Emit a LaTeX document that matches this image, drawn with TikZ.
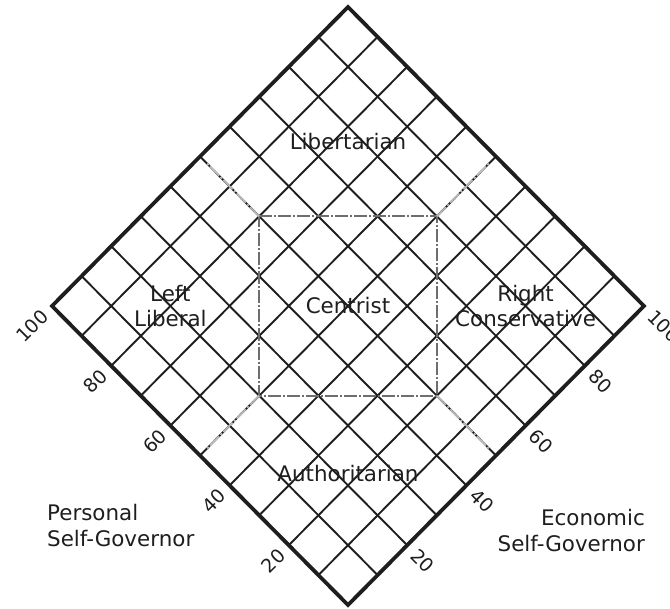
\documentclass[tikz,border=0pt]{standalone}
\usepackage{fontspec}
\setmainfont{DejaVu Sans}
\usepackage{xcolor}
\usepackage{tikz}
\definecolor{nolanInk}{HTML}{1E1E1E}
\definecolor{nolanGuia}{HTML}{6E6E6E}
\definecolor{nolanTenue}{HTML}{BDBDBD}
\tikzset{
  rejilla/.style={draw=nolanInk, line width=1.9bp},
  marco/.style={draw=nolanInk, line width=3.8bp, line join=miter},
  limite/.style={draw=#1, line width=1.7bp, dash pattern=on 13bp off 2bp on 2bp off 2bp},
  zona/.style={text=nolanInk, align=center, inner sep=0pt, font=\fontsize{21.5}{25}\selectfont},
  escala/.style={text=nolanInk, inner sep=0pt, font=\fontsize{19}{22}\selectfont},
  eje/.style={text=nolanInk, inner sep=0pt, font=\fontsize{21.5}{26}\selectfont},
}

\begin{document}
\begin{tikzpicture}[x={(-29.6bp,29.9bp)}, y={(29.6bp,29.9bp)}]
\useasboundingbox (-348bp,-4bp) rectangle (322bp,605bp);
% rejilla 10 x 10
\foreach \i in {1,...,9} {
  \draw[rejilla] (\i,0) -- (\i,10);
  \draw[rejilla] (0,\i) -- (10,\i);
}
\coordinate (abajo) at (0,0);
\coordinate (izq) at (10,0);
\coordinate (arriba) at (10,10);
\coordinate (der) at (0,10);
\draw[marco] (abajo) -- (izq) -- (arriba) -- (der) -- cycle;

% zona central y sus prolongaciones
\coordinate (c1) at (8,5);
\coordinate (c2) at (5,8);
\coordinate (c3) at (2,5);
\coordinate (c4) at (5,2);
\draw[limite=nolanGuia] (c1) -- (c2) -- (c3) -- (c4) -- cycle;
\coordinate (f1) at (9.8,5);
\coordinate (f2) at (5,9.8);
\coordinate (f3) at (0.2,5);
\coordinate (f4) at (5,0.2);
\draw[limite=nolanTenue] (c1) -- (f1);
\draw[limite=nolanTenue] (c2) -- (f2);
\draw[limite=nolanTenue] (c3) -- (f3);
\draw[limite=nolanTenue] (c4) -- (f4);

% nombres de zona
\node[zona] (libertario) at (7.75,7.75) {Libertarian};
\node[zona] (izquierda) at (8,2) {Left\\Liberal};
\node[zona] (centro) at (5,5) {Centrist};
\node[zona] (derecha) at (2,8) {Right\\Conservative};
\node[zona] (autoritario) at (2.2,2.2) {Authoritarian};

% escalas
\foreach \v/\t in {2/20,4/40,6/60,8/80,10/100} {
  \node[escala, xshift=-7bp, yshift=-7bp, rotate=45, anchor=east] (per\t) at (\v,0) {\t};
  \node[escala, xshift=7bp, yshift=-7bp, rotate=-45, anchor=west] (eco\t) at (0,\v) {\t};
}

% ejes
\node[eje, anchor=north west, align=left] (personal) at (-301bp,101bp) {Personal\\Self-Governor};
\node[eje, anchor=north east, align=right] (economico) at (297bp,96bp) {Economic\\Self-Governor};
\end{tikzpicture}
\end{document}
